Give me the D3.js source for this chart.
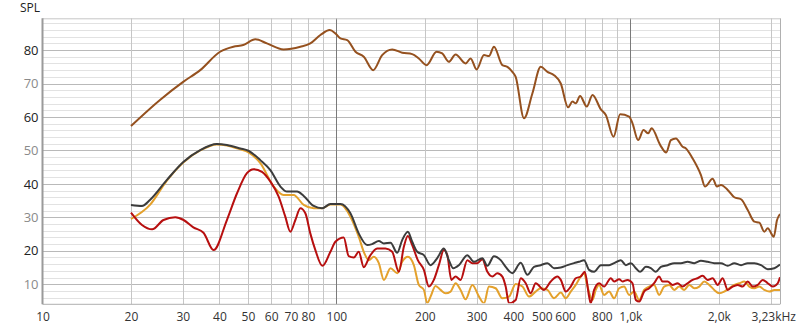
<!DOCTYPE html>
<html>
<head>
<meta charset="utf-8">
<script src="https://cdn.jsdelivr.net/npm/d3@7/dist/d3.min.js"></script>
<style>
    body { margin: 0; background: #fff; }
    svg text { font-family: "Open Sans", "Noto Sans", sans-serif; font-size: 12px; }
</style>
</head>
<body>
<div id="chart"></div>
<script>
// axis ticks
const hzLabelTicks = [10, 20, 30, 40, 50, 60, 70, 80, 100, 200, 300, 400, 500, 600, 800, 1000, 2000];
const hzLabelText = ["10", "20", "30", "40", "50", "60", "70", "80", "100", "200", "300", "400", "500", "600", "800", "1,0k", "2,0k"];
const hzGrid = [20, 30, 40, 50, 60, 70, 80, 90, 200, 300, 400, 500, 600, 700, 800, 900, 2000, 3000];
const hzMajor = [100, 1000];
const splTicks = [10, 20, 30, 40, 50, 60, 70, 80];

// series, [Hz, dB]
const brownCurve = [[20, 57.3], [25.1, 65.1], [30.1, 70.5], [34.4, 74], [40.2, 79.5], [44.6, 81], [48.2, 81.5], [53, 83.2], [58, 82], [66.1, 80.2], [75.4, 81], [81.5, 82], [88.2, 84.5], [94.9, 86], [99.2, 85], [103.2, 83.5], [108.8, 83], [116.1, 79.5], [123.9, 78], [133.4, 74], [143.1, 78.5], [154.8, 80.2], [167.4, 79.2], [181.1, 78.8], [190.7, 77.5], [202.6, 75.5], [219.1, 79.5], [229.1, 79], [241.3, 76.5], [254.4, 78.7], [275.1, 76], [286.1, 77.5], [299.9, 74.2], [317.7, 78.5], [330.4, 78.2], [343.6, 81], [366.9, 75.5], [381.6, 75], [396.8, 73.5], [407.3, 72], [434.7, 59.6], [464.4, 67.1], [495.6, 75], [522.3, 73.5], [550.1, 72.5], [579.8, 70], [614, 62.9], [635.6, 64.6], [652.2, 64.1], [674.5, 66.3], [710.9, 63.1], [743.4, 66.6], [793.6, 62.3], [825.2, 60.6], [876.7, 54.1], [923.2, 60.8], [990.6, 60.1], [1017, 58.1], [1063, 53.1], [1109, 56.1], [1150, 55.1], [1181, 56.6], [1264, 51.6], [1324, 49.4], [1374, 53.1], [1429, 53.6], [1506, 51.1], [1546, 50.6], [1629, 47.6], [1739, 42.6], [1794, 39.2], [1906, 41.5], [1971, 39.2], [2034, 39.7], [2144, 38.2], [2258, 36], [2380, 35.4], [2508, 32.2], [2642, 28.7], [2747, 28.4], [2857, 25.7], [2934, 26.7], [3076, 24.2], [3156, 29.2], [3230, 31]];

const grayCurve = [[20, 33.7], [21.8, 33.4], [23.2, 35.2], [26.5, 41.2], [30.2, 46.6], [34.4, 50.1], [39.2, 51.9], [42.4, 51.6], [47.1, 50.6], [50.2, 49.9], [55.1, 47.1], [59.6, 44.1], [64.5, 39.2], [67.9, 37.7], [73.5, 37.7], [77.4, 36.4], [83.7, 33.4], [89.4, 32.7], [95.4, 34], [103.2, 34], [111.6, 31.2], [119.1, 25.2], [127.2, 21.7], [132.3, 22], [139.4, 22.9], [145, 22.2], [152.8, 22.4], [161, 19.4], [167.4, 23.2], [175, 25.7], [181.1, 22.7], [188.4, 19.7], [198.4, 18.7], [209.1, 15.7], [220.3, 17.8], [232, 20.7], [241.3, 17.2], [249.8, 14.8], [261, 15.7], [278.8, 18.7], [293.7, 16.7], [313.6, 17.8], [326.3, 15.5], [343.6, 18.4], [362.2, 17.2], [376.6, 15.2], [396.8, 13.3], [423.7, 16.4], [446.5, 12.8], [470.1, 15.2], [495.6, 15.7], [522.3, 16.3], [550.1, 14.8], [580, 15], [611, 15.7], [643.5, 16.3], [669.2, 16.7], [695.9, 17.2], [723.7, 14.3], [752.7, 13.7], [793.6, 15.7], [847, 15.7], [880.8, 16.3], [928.2, 17.2], [965.4, 15.7], [1004, 16.3], [1044, 14.8], [1080, 13.7], [1129, 15.2], [1174, 14.8], [1221, 13.7], [1270, 15.2], [1339, 15.7], [1410, 16.3], [1486, 16.3], [1566, 16.7], [1650, 16.3], [1739, 17], [1832, 16.7], [1930, 16.3], [2034, 16.3], [2144, 15.5], [2258, 16.3], [2380, 15.7], [2508, 16.3], [2642, 16.3], [2784, 15.7], [2934, 14.5], [3090, 14.8], [3230, 15.9]];

const redCurve = [[20, 31.4], [21.8, 27.7], [23.6, 26.4], [25.8, 29.2], [28.3, 30], [30.2, 29.2], [32.6, 27], [35.3, 25.4], [38.2, 20.2], [42.4, 29.2], [45.9, 37.2], [49.6, 43.2], [52.3, 44.4], [55.8, 43.6], [59.6, 40.7], [63.6, 36.2], [67, 30.2], [69.7, 25.7], [72.5, 29.2], [75.4, 32.7], [78.4, 31.2], [81.5, 25.2], [84.8, 20.2], [89.6, 15.5], [95.4, 19.7], [99.2, 22.7], [105.9, 24], [110.1, 18.4], [114.6, 18], [119.1, 19.7], [123.9, 15.1], [129.9, 18.4], [137.6, 20.7], [146.9, 20.7], [154.8, 19.7], [163.1, 13.7], [169.6, 21.2], [175, 24.4], [181.1, 21.7], [189.2, 17.2], [198.4, 14.3], [206.3, 9.3], [214.5, 11.3], [223.1, 15.7], [232, 20.2], [238.4, 18.7], [246, 11.3], [254.4, 12.3], [264.5, 11.3], [278.8, 17.2], [290.1, 16.3], [301.7, 16.3], [313.6, 17.5], [326.3, 13.7], [339.3, 12.3], [352.7, 13.3], [366.9, 12.3], [376.6, 9.3], [386.5, 4.3], [407.3, 5.3], [423.7, 11.8], [440.6, 10.3], [458.1, 7.3], [476.4, 10.3], [508.5, 8.3], [535.9, 10.8], [564.9, 12.3], [580, 11.3], [603, 7.8], [627, 9.3], [652, 11.8], [678, 12.3], [700, 13.7], [724, 6.3], [733, 4.3], [753, 8.3], [783, 10.3], [814, 9.3], [858, 11.8], [881, 10.8], [916, 11.5], [941, 10.8], [978, 11.3], [1017, 10.3], [1044, 5.3], [1072, 4.8], [1114, 7.8], [1159, 8.8], [1205, 10.3], [1253, 12.3], [1287, 10.8], [1339, 10.8], [1392, 9.8], [1448, 10.3], [1506, 9.3], [1566, 10.3], [1629, 11.3], [1694, 11.8], [1762, 12.5], [1832, 11.3], [1906, 11.8], [1982, 9.8], [2061, 11.8], [2144, 8.3], [2229, 9.3], [2318, 9.8], [2412, 9.3], [2508, 10.8], [2608, 9.3], [2713, 9.8], [2821, 11.3], [2934, 10.3], [3051, 9.3], [3173, 10.3], [3230, 12.1]];

const orangeCurve = [[20, 29.5], [23.2, 33.7], [26.5, 41], [30.2, 46.5], [34.4, 50], [39.2, 51.8], [42.4, 51.5], [47.1, 50.3], [50.2, 49.4], [55.1, 46.2], [61.2, 39.2], [66.1, 36.7], [71.5, 36.7], [77.4, 33.7], [83.7, 32.7], [89.4, 32.7], [95.4, 33.8], [103.2, 33.8], [111.6, 30.2], [119.1, 24.2], [123.9, 19.7], [128.8, 17.2], [134, 18.2], [139.4, 16.3], [145, 11.3], [152.8, 14.8], [161, 13.3], [167.4, 16.7], [175, 18.2], [183.4, 15.7], [190.7, 9.8], [198.4, 8.3], [203.7, 4.3], [209.1, 6.3], [217.4, 9.5], [226.1, 8.3], [235.2, 7.3], [244.6, 7.8], [254.4, 10.3], [264.5, 8.3], [275.1, 5.5], [290.1, 9.8], [305.5, 6.3], [317.7, 4.3], [330.4, 9.3], [348.1, 8.8], [366.9, 5.8], [386.5, 6.3], [407.3, 10.1], [429.4, 9.3], [452.1, 6.3], [476.4, 7.8], [495.6, 8.8], [522.3, 8.3], [550.1, 5.8], [580, 7.5], [603, 5.8], [627, 7.8], [652, 9.8], [678, 12.3], [695.9, 13.3], [715, 9.3], [743.4, 5.3], [762.8, 8.3], [783, 9.8], [814, 6.8], [847, 7.8], [881, 5.8], [916, 8.8], [952.6, 9.3], [990.6, 6.8], [1030, 7.8], [1072, 5.3], [1114, 8.3], [1159, 9.3], [1205, 9.8], [1253, 6.8], [1303, 9.3], [1356, 9.8], [1410, 8.3], [1466, 9.3], [1525, 8.3], [1586, 9.8], [1650, 8.8], [1716, 9.3], [1785, 10.8], [1856, 9.8], [1930, 8.3], [2007, 7.3], [2087, 7.8], [2171, 8.8], [2258, 9.8], [2348, 10.3], [2442, 10.8], [2540, 9.3], [2642, 8.8], [2747, 9.3], [2857, 8.3], [2971, 7.8], [3090, 8.3], [3230, 8.3]];

const series = [
    {data: orangeCurve, color: "#e4a12c"},
    {data: redCurve, color: "#b70f0f"},
    {data: grayCurve, color: "#3c3c3c"},
    {data: brownCurve, color: "#95511f"}
];

let width = 800, height = 328;
let plot = {left: 42.5, right: 780, top: 18.3, bottom: 304.3};

let svg = d3.select("#chart").append("svg")
    .attr("width", width)
    .attr("height", height);

let x = d3.scaleLog().domain([10, 3230]).range([plot.left, plot.right]);
let y = d3.scaleLinear().domain([4, 89.5]).range([plot.bottom, plot.top]);

// horizontal grid, every 2 dB
let minorDb = d3.range(6, 90, 2);
svg.append("g").selectAll("line")
    .data(minorDb)
    .enter().append("line")
    .attr("x1", plot.left).attr("x2", plot.right)
    .attr("y1", d => Math.round(y(d)) + 0.5).attr("y2", d => Math.round(y(d)) + 0.5)
    .attr("stroke", d => d % 10 === 0 ? "#b9b9b9" : "#e2e2e2")
    .attr("stroke-width", 1);

// vertical grid
svg.append("g").selectAll("line")
    .data(hzGrid)
    .enter().append("line")
    .attr("x1", d => Math.round(x(d)) + 0.5).attr("x2", d => Math.round(x(d)) + 0.5)
    .attr("y1", plot.top).attr("y2", plot.bottom)
    .attr("stroke", "#c6c6c6");

svg.append("g").selectAll("line")
    .data(hzMajor)
    .enter().append("line")
    .attr("x1", d => Math.round(x(d)) + 0.5).attr("x2", d => Math.round(x(d)) + 0.5)
    .attr("y1", plot.top).attr("y2", plot.bottom)
    .attr("stroke", "#7a7a7a");

// frame
svg.append("line")
    .attr("x1", plot.left).attr("x2", plot.right)
    .attr("y1", plot.top + 0.5).attr("y2", plot.top + 0.5)
    .attr("stroke", "#c6c6c6");
svg.append("line")
    .attr("x1", plot.right + 0.5).attr("x2", plot.right + 0.5)
    .attr("y1", plot.top).attr("y2", plot.bottom)
    .attr("stroke", "#b0b0b0");
svg.append("line")
    .attr("x1", plot.left).attr("x2", plot.right)
    .attr("y1", plot.bottom).attr("y2", plot.bottom)
    .attr("stroke", "#b0b0b0");
svg.append("line")
    .attr("x1", plot.left).attr("x2", plot.left)
    .attr("y1", plot.top).attr("y2", plot.bottom)
    .attr("stroke", "#9a9a9a").attr("stroke-width", 2);

// curves
svg.append("clipPath").attr("id", "plotClip")
    .append("rect")
    .attr("x", plot.left).attr("y", plot.top)
    .attr("width", plot.right - plot.left).attr("height", plot.bottom - plot.top - 1);

let line = d3.line()
    .x(d => x(d[0]))
    .y(d => y(d[1]))
    .curve(d3.curveMonotoneX);

let curves = svg.append("g").attr("clip-path", "url(#plotClip)");
series.forEach(s => {
    curves.append("path")
        .datum(s.data)
        .attr("d", line)
        .attr("fill", "none")
        .attr("stroke", s.color)
        .attr("stroke-width", 2)
        .attr("stroke-linejoin", "round");
});

// x labels
let xAxis = d3.axisBottom(x)
    .tickValues(hzLabelTicks)
    .tickSize(0)
    .tickPadding(0)
    .tickFormat((d, i) => hzLabelText[i]);

let xAxisGroup = svg.append("g")
    .attr("transform", `translate(0, ${plot.bottom + 8})`)
    .call(xAxis);
xAxisGroup.select(".domain").remove();
xAxisGroup.selectAll("text")
    .attr("fill", "#333")
    .style("font-size", "12px");

svg.append("text")
    .attr("x", 796)
    .attr("y", plot.bottom + 8)
    .attr("dy", "0.71em")
    .attr("text-anchor", "end")
    .attr("fill", "#333")
    .style("font-size", "12px")
    .text("3,23kHz");

// y labels
let yAxis = d3.axisLeft(y)
    .tickValues(splTicks)
    .tickSize(0)
    .tickPadding(0)
    .tickFormat(d3.format("d"));

let yAxisGroup = svg.append("g")
    .attr("transform", `translate(38.5, 0)`)
    .call(yAxis);
yAxisGroup.select(".domain").remove();
yAxisGroup.selectAll("text")
    .attr("fill", d => d % 20 === 0 ? "#222" : "#8a8a8a")
    .style("font-size", "13px");

svg.append("text")
    .attr("x", 20)
    .attr("y", 12)
    .attr("fill", "#222")
    .text("SPL");
</script>
</body>
</html>
